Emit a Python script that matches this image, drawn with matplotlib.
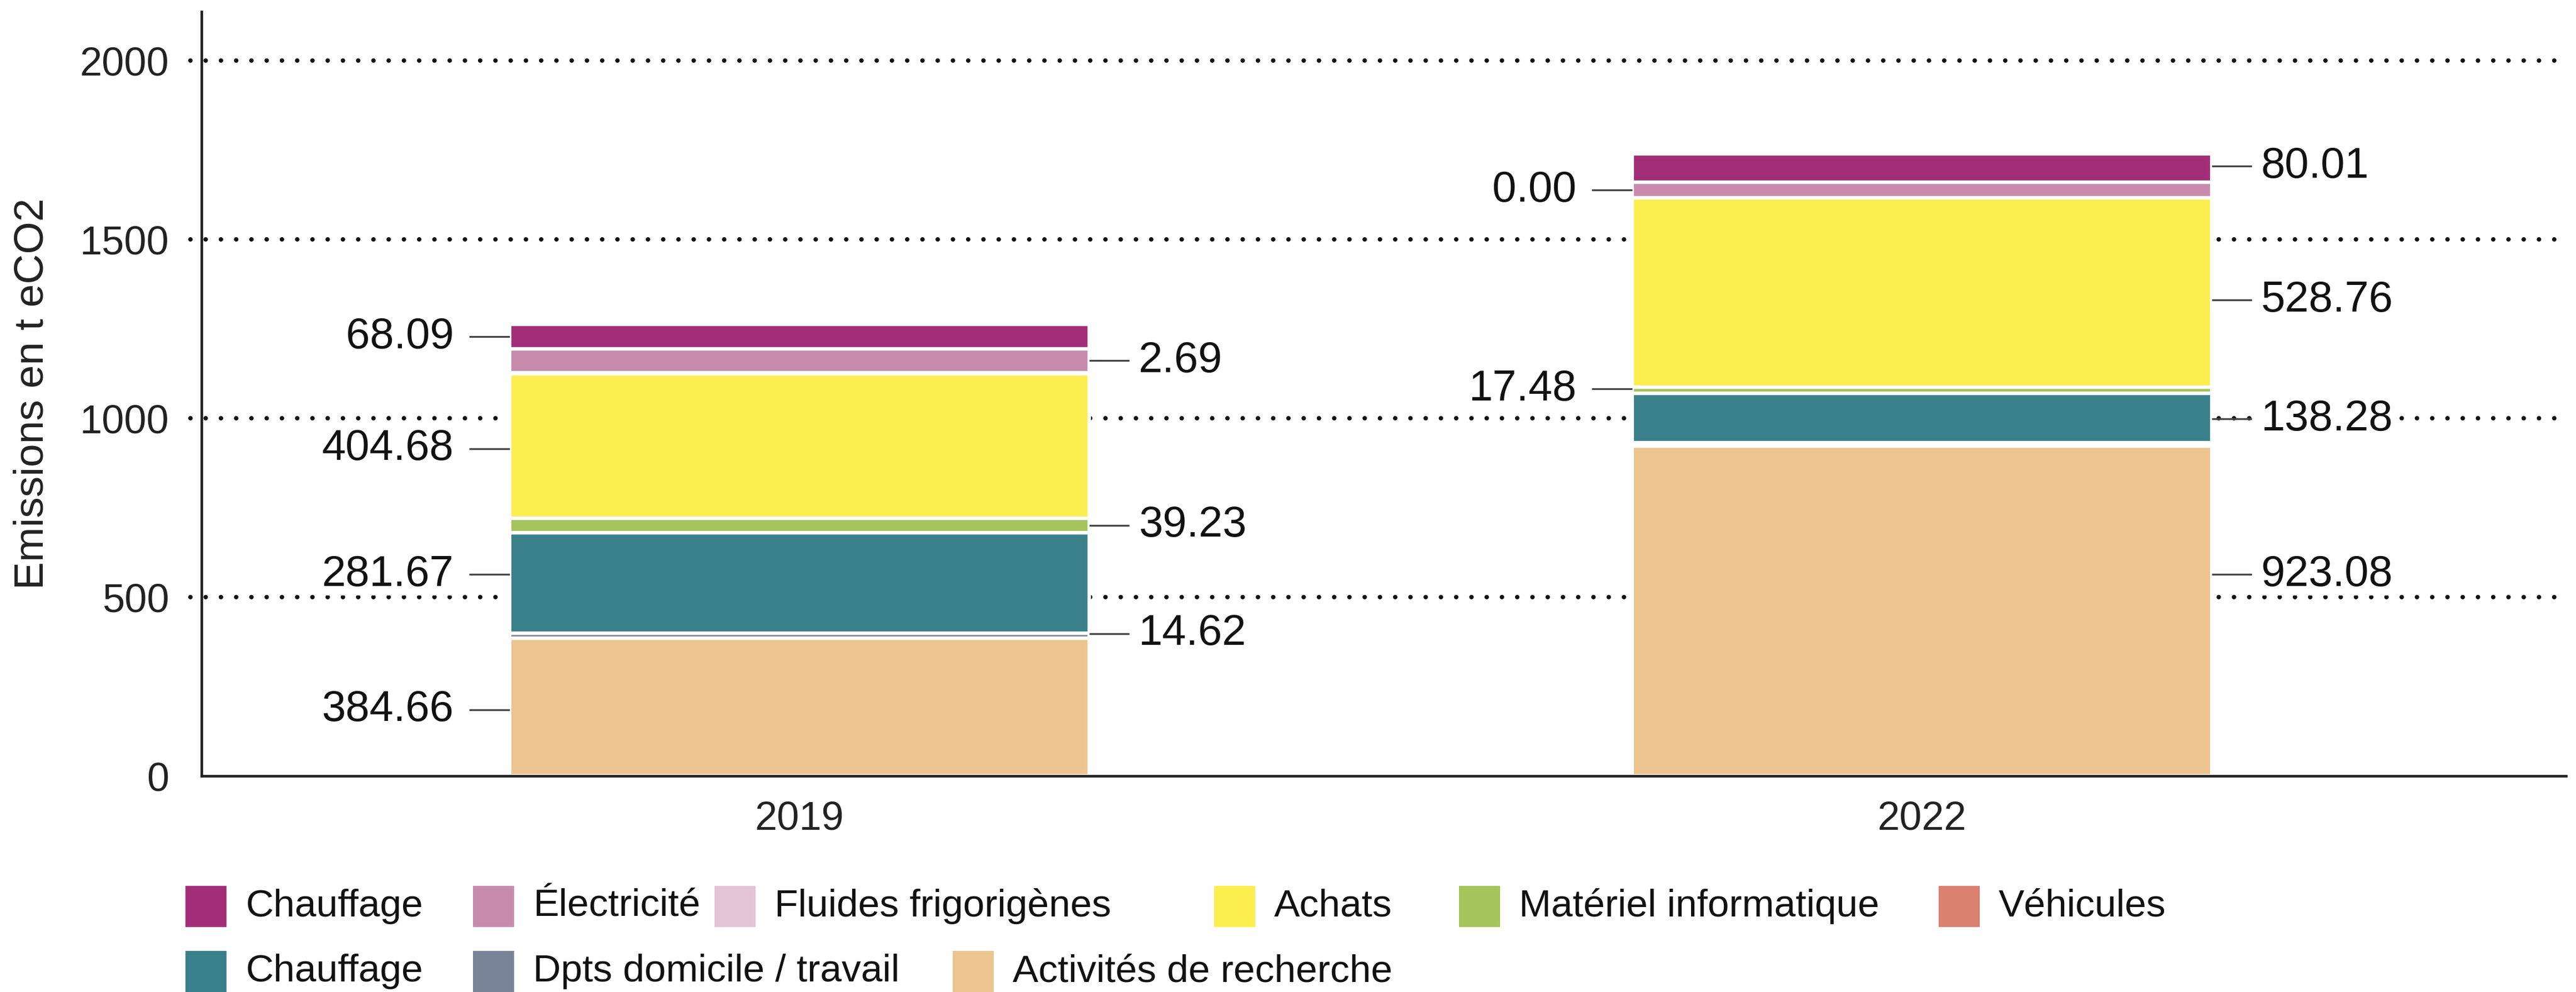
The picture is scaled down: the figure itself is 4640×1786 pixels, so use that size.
import matplotlib
matplotlib.use("Agg")
import matplotlib.pyplot as plt
from matplotlib.patches import Rectangle
import numpy as np

plt.rcParams['font.family'] = ['Liberation Sans', 'DejaVu Sans']

# ---------------- data ----------------
years = ["2019", "2022"]
categories = ["Chauffage", "Électricité", "Fluides frigorigènes", "Achats",
              "Matériel informatique", "Véhicules", "Chauffage",
              "Dpts domicile / travail", "Activités de recherche"]
colors = ["#A32E78", "#C88BAE", "#E2C4D5", "#FDEE50", "#A5C45C",
          "#DA8170", "#3A808A", "#7A8499", "#ECC490"]
values_2019 = [68.09, 66.8, 2.69, 404.68, 39.23, 0.0, 281.67, 14.62, 384.66]
values_2022 = [80.01, 43.0, 0.00, 528.76, 17.48, 0.0, 138.28, 9.0, 923.08]
values = [values_2019, values_2022]
yticks = [0, 500, 1000, 1500, 2000]
ylabel = "Emissions en t eCO2"

# data labels: (bar index, anchor segment index, value segment index, side, y shift)
labels = [
    (0, 0, 0, "left", 0), (0, 1, 2, "right", 0), (0, 3, 3, "left", -7),
    (0, 4, 4, "right", 0), (0, 6, 6, "left", 23), (0, 7, 7, "right", 6),
    (0, 8, 8, "left", -7),
    (1, 0, 0, "right", 5), (1, 1, 2, "left", 0), (1, 3, 3, "right", -22),
    (1, 4, 4, "left", 3), (1, 6, 6, "right", -3), (1, 8, 8, "right", 102),
]

# ---------------- figure ----------------
W, H = 4640, 1786
fig = plt.figure(figsize=(W / 100, H / 100), dpi=100)
x0, x1, yb, yt = 363, 4622, 1397, 21
ax = fig.add_axes([x0 / W, 1 - yb / H, (x1 - x0) / W, (yb - yt) / H])

xpos = np.arange(len(years))
bw = 0.516
ax.set_xlim(-0.5326, 1.5737)
ax.set_ylim(0, 2137)

# stacked bars from bottom (last category) to top
bottoms = np.zeros(len(years))
seg_bottom = {}
for ci in range(len(categories) - 1, -1, -1):
    h = np.array([values[b][ci] for b in range(len(years))])
    ax.bar(xpos, h, bw, bottom=bottoms, color=colors[ci], edgecolor="white",
           linewidth=4.5, zorder=2)
    for b in range(len(years)):
        seg_bottom[(b, ci)] = bottoms[b]
    bottoms = bottoms + h

# gridlines (dotted)
for yv in yticks[1:]:
    ax.hlines(yv, -0.0047, 1.0, transform=ax.get_yaxis_transform(),
              colors="#111111", linewidth=5.8, linestyles=(0, (0.01, 3.4)),
              capstyle="round", zorder=1, clip_on=False)

# data labels with connectors
half = bw / 2
for b, anchor, vidx, side, dy in labels:
    yc = seg_bottom[(b, anchor)] + values[b][anchor] / 2 + dy
    txt = f"{values[b][vidx]:.2f}"
    if side == "right":
        xs, xe, xt, ha = xpos[b] + half, xpos[b] + half + 0.036, xpos[b] + half + 0.044, "left"
    else:
        xs, xe, xt, ha = xpos[b] - half, xpos[b] - half - 0.036, xpos[b] - half - 0.050, "right"
    ax.plot([xs, xe], [yc, yc], color="#444444", linewidth=2.4, zorder=3,
            solid_capstyle="butt")
    ax.text(xt, yc, txt, ha=ha, va="center", fontsize=56, color="#111111",
            zorder=4, bbox=dict(facecolor="white", edgecolor="none", pad=1))

# axes styling
for s in ["top", "right"]:
    ax.spines[s].set_visible(False)
for s in ["left", "bottom"]:
    ax.spines[s].set_linewidth(3.4)
    ax.spines[s].set_color("#222222")
    ax.spines[s].set_zorder(5)
ax.set_yticks(yticks)
ax.set_yticklabels([str(v) for v in yticks])
ax.set_xticks(xpos)
ax.set_xticklabels(years)
ax.tick_params(axis="y", length=0, pad=42, labelsize=52, labelcolor="#222222")
ax.tick_params(axis="x", length=0, pad=32, labelsize=52, labelcolor="#222222")
ax.set_ylabel(ylabel, fontsize=54, color="#222222")
ax.yaxis.set_label_coords(-0.0636, 0.5)

# legend (manual flow layout)
leg_rows = [[0, 1, 2, 3, 4, 5], [6, 7, 8]]
leg_x = [[334, 852, 1287, 2187, 2628, 3492], [334, 852, 1716]]
leg_y = [1632, 1749]
sq = 74
for r, row in enumerate(leg_rows):
    for k, ci in enumerate(row):
        xl = leg_x[r][k]
        yc = leg_y[r]
        fig.add_artist(Rectangle((xl / W, 1 - (yc + sq / 2) / H), sq / W, sq / H,
                                 transform=fig.transFigure, facecolor=colors[ci],
                                 edgecolor="none"))
        fig.text((xl + 108) / W, 1 - yc / H, categories[ci], ha="left",
                 va="center", fontsize=50, color="#111111")

fig.savefig("out.png", dpi=100, facecolor="white")
